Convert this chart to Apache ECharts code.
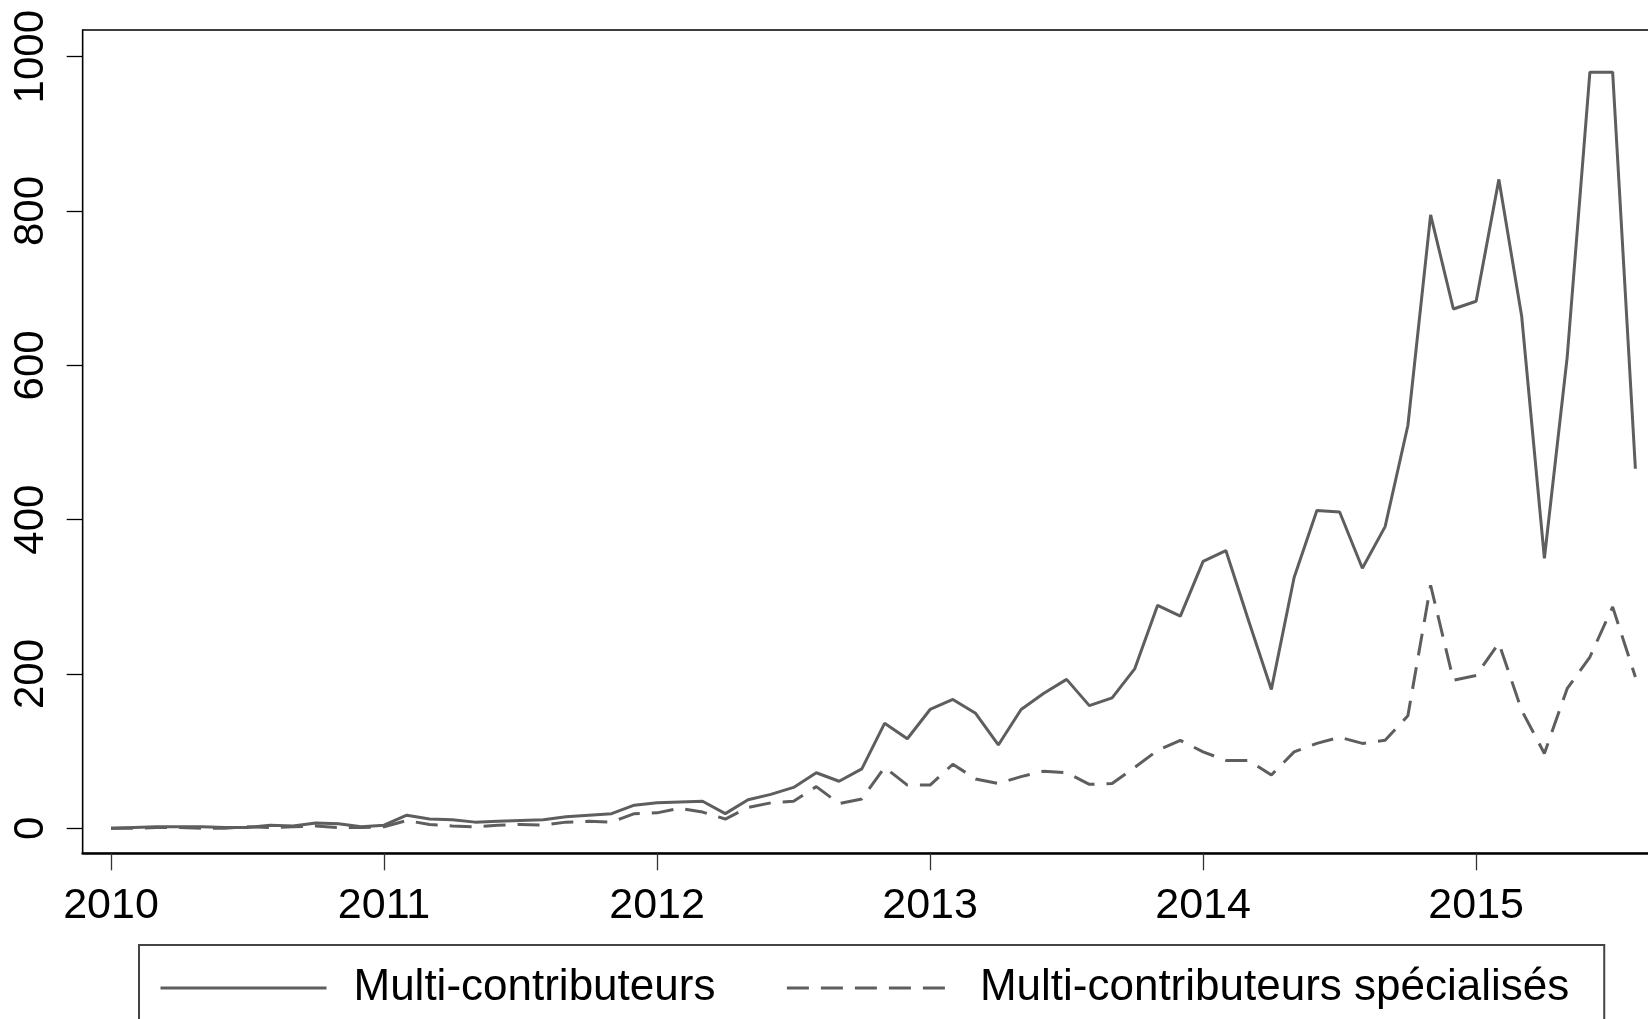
<!DOCTYPE html>
<html>
<head>
<meta charset="utf-8">
<script src="https://cdn.jsdelivr.net/npm/echarts@6/dist/echarts.min.js"></script>
<style>
  html, body { margin: 0; padding: 0; background: #fff; }
  #chart { width: 1648px; height: 1019px; }
</style>
</head>
<body>
<div id="chart"></div>
<script>
// Monthly observations (Jan 2010 - Aug 2015)
const months = [
  '2010-01','2010-02','2010-03','2010-04','2010-05','2010-06','2010-07','2010-08','2010-09','2010-10','2010-11','2010-12',
  '2011-01','2011-02','2011-03','2011-04','2011-05','2011-06','2011-07','2011-08','2011-09','2011-10','2011-11','2011-12',
  '2012-01','2012-02','2012-03','2012-04','2012-05','2012-06','2012-07','2012-08','2012-09','2012-10','2012-11','2012-12',
  '2013-01','2013-02','2013-03','2013-04','2013-05','2013-06','2013-07','2013-08','2013-09','2013-10','2013-11','2013-12',
  '2014-01','2014-02','2014-03','2014-04','2014-05','2014-06','2014-07','2014-08','2014-09','2014-10','2014-11','2014-12',
  '2015-01','2015-02','2015-03','2015-04','2015-05','2015-06','2015-07','2015-08'
];
const multiContributeurs = [
  0,1,2,2,2,1,1,4,3,7,6,2,
  4,17,12,11,8,9,10,11,15,17,19,30,
  33,34,35,19,37,44,53,72,61,77,136,116,
  154,167,149,108,154,175,193,159,169,207,289,275,
  346,360,269,180,325,412,410,337,391,522,795,673,
  683,841,664,350,610,980,980,466
];
const multiSpecialises = [
  0,0,1,1,0,0,2,1,2,3,1,1,
  2,10,5,3,2,4,5,4,8,9,8,19,
  20,26,21,12,27,33,35,54,32,38,79,56,
  56,83,64,58,67,74,72,57,58,79,101,114,
  99,88,88,69,99,110,118,110,114,146,315,192,
  198,240,153,97,181,222,287,196
];
const seriesNames = ['Multi-contributeurs', 'Multi-contributeurs spécialisés'];
const xTicks = [2010, 2011, 2012, 2013, 2014, 2015];
const yTicks = [0, 200, 400, 600, 800, 1000];

// monthly time index (year + (month-1)/12), as in a monthly date variable
function toYearFrac(s) {
  const p = s.split('-');
  return Number(p[0]) + (Number(p[1]) - 1) / 12;
}
const pairs = (vals) => months.map((m, i) => [toYearFrac(m), vals[i]]);

const FONT = 'Liberation Sans, Arial, sans-serif';
const LINE_COLOR = '#5e5e5e';

const chart = echarts.init(document.getElementById('chart'), null, { renderer: 'canvas' });
chart.setOption({
  animation: false,
  backgroundColor: '#ffffff',
  grid: {
    left: 82.7, top: 30, width: 1581, height: 823.3,
    show: true, borderColor: '#000', borderWidth: 1.3,
    containLabel: false, outerBoundsMode: 'none'
  },
  xAxis: {
    type: 'value',
    min: 2009.8963, max: 2015.687,
    axisLine: { show: true, onZero: false, lineStyle: { color: '#000', width: 2.6 } },
    axisTick: { show: true, customValues: xTicks, length: 17, lineStyle: { color: '#333', width: 1.3 } },
    axisLabel: {
      customValues: xTicks, margin: 31, color: '#000',
      fontSize: 43, fontFamily: FONT,
      formatter: (v) => String(Math.round(v))
    },
    splitLine: { show: false }
  },
  yAxis: {
    type: 'value',
    min: -32.4, max: 1034.6,
    axisLine: { show: true, onZero: false, lineStyle: { color: '#000', width: 1.3 } },
    axisTick: { show: true, customValues: yTicks, length: 16, lineStyle: { color: '#000', width: 1.3 } },
    axisLabel: {
      customValues: yTicks, rotate: 90, margin: 30, color: '#000',
      fontSize: 42, fontFamily: FONT,
      formatter: (v) => String(Math.round(v))
    },
    splitLine: { show: false }
  },
  legend: {
    left: 139, top: 945,
    orient: 'horizontal',
    padding: [18, 35, 40, 20],
    borderColor: '#444', borderWidth: 2,
    itemWidth: 166, itemHeight: 50, itemGap: 70,
    itemStyle: { color: 'rgba(0,0,0,0)', borderWidth: 0, opacity: 0 },
    lineStyle: { width: 3 },
    textStyle: { fontSize: 44, fontFamily: FONT, color: '#000', padding: [0, 0, 0, 22], lineHeight: 50 },
    data: seriesNames
  },
  series: [
    {
      name: seriesNames[0], type: 'line', symbol: 'none', showSymbol: false,
      data: pairs(multiContributeurs),
      lineStyle: { color: LINE_COLOR, width: 3 },
      itemStyle: { color: LINE_COLOR }
    },
    {
      name: seriesNames[1], type: 'line', symbol: 'none', showSymbol: false,
      data: pairs(multiSpecialises),
      lineStyle: { color: LINE_COLOR, width: 3, type: [22, 12] },
      itemStyle: { color: LINE_COLOR }
    }
  ]
});
</script>
</body>
</html>
